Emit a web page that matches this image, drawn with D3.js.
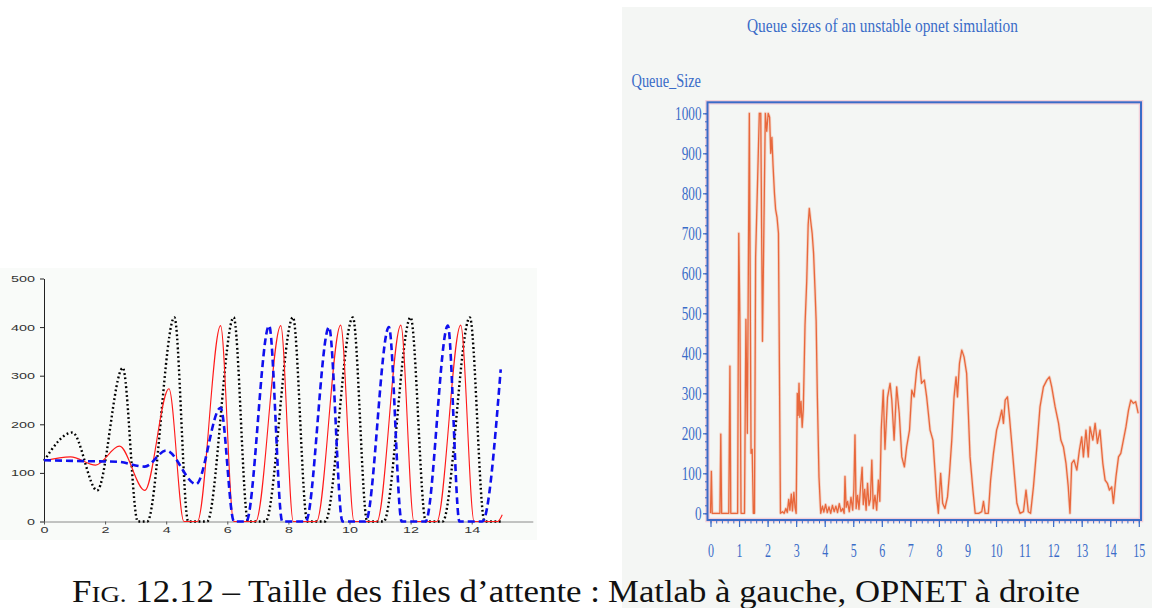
<!DOCTYPE html>
<html>
<head>
<meta charset="utf-8">
<script src="https://cdn.jsdelivr.net/npm/d3@7"></script>
<style>
  html, body { margin: 0; padding: 0; background: #ffffff; }
  svg { display: block; }
</style>
</head>
<body>
<svg id="fig" width="1152" height="608"></svg>
<script>
// ---------------- data ----------------
// Matlab model: queue sizes vs time (three queues), [time, size]
const matlabTicksX = [0, 2, 4, 6, 8, 10, 12, 14];
const matlabTicksY = [0, 100, 200, 300, 400, 500];

const matlabDotted = [
  [0, 125], [0.93, 183], [1.74, 64], [2.58, 316], [3.07, 0], [3.38, 0],
  [4.27, 420], [4.72, 0], [5.34, 0], [6.21, 420], [6.68, 0], [7.25, 0],
  [8.15, 420], [8.62, 0], [9.2, 0], [10.11, 420], [10.58, 0], [11.12, 0],
  [12.0, 420], [12.5, 0], [13.05, 0], [13.94, 420], [14.42, 0], [15, 0]
];

const matlabSolid = [
  [0, 125], [0.87, 133], [1.69, 116], [2.47, 155], [3.3, 64], [4.09, 273],
  [4.58, 0], [5.02, 0], [5.78, 403], [6.21, 0], [6.93, 0], [7.75, 403],
  [8.16, 0], [8.92, 0], [9.71, 404], [10.15, 0], [10.9, 0], [11.68, 404],
  [12.11, 0], [12.86, 0], [13.64, 404], [14.08, 0], [14.85, 0], [15, 14]
];

const matlabDashed = [
  [0, 126], [1.5, 124], [2.4, 123], [3.3, 113], [4.0, 146], [4.98, 77],
  [5.78, 234], [6.22, 0], [6.62, 0], [7.37, 403], [7.8, 0], [8.57, 0],
  [9.33, 400], [9.77, 0], [10.53, 0], [11.29, 400], [11.71, 0], [12.49, 0],
  [13.22, 403], [13.6, 0], [14.35, 0], [14.95, 313]
];

// OPNET simulation: queue size vs time, [time, size]
const opnetTicksX = [0, 1, 2, 3, 4, 5, 6, 7, 8, 9, 10, 11, 12, 13, 14, 15];
const opnetTicksY = [0, 100, 200, 300, 400, 500, 600, 700, 800, 900, 1000];

const opnetQueue = [
  [0.00,0],[0.03,105],[0.06,0],[0.33,0],[0.36,198],[0.39,0],[0.64,0],[0.68,368],
  [0.71,0],[0.95,0],[0.99,700],[1.03,480],[1.07,0],[1.19,0],[1.24,485],[1.29,200],
  [1.36,1000],[1.42,150],[1.46,160],[1.50,0],[1.54,0],[1.58,640],[1.71,1000],[1.76,1000],
  [1.82,430],[1.92,1000],[1.97,955],[2.02,1000],[2.07,990],[2.11,900],[2.15,940],[2.19,870],
  [2.24,800],[2.28,760],[2.33,740],[2.38,700],[2.45,0],[2.52,4],[2.58,0],[2.64,12],
  [2.69,2],[2.74,35],[2.78,8],[2.83,48],[2.87,6],[2.92,52],[2.96,15],[3.00,0],
  [3.04,300],[3.07,245],[3.10,325],[3.13,240],[3.17,280],[3.21,215],[3.25,260],[3.31,470],
  [3.37,580],[3.42,720],[3.46,762],[3.51,730],[3.56,700],[3.61,650],[3.66,560],[3.70,480],
  [3.74,300],[3.80,90],[3.86,0],[3.92,18],[3.97,3],[4.03,22],[4.09,2],[4.15,16],
  [4.21,0],[4.27,20],[4.33,4],[4.39,18],[4.45,2],[4.51,24],[4.57,5],[4.63,12],
  [4.68,0],[4.71,92],[4.75,15],[4.80,30],[4.86,4],[4.92,40],[4.98,8],[5.02,60],
  [5.06,196],[5.10,12],[5.15,45],[5.20,10],[5.26,70],[5.31,115],[5.35,22],[5.40,60],
  [5.45,8],[5.50,75],[5.55,20],[5.60,35],[5.65,133],[5.70,12],[5.76,45],[5.82,8],
  [5.88,83],[5.93,30],[5.98,210],[6.05,308],[6.11,160],[6.20,290],[6.29,325],[6.35,283],
  [6.43,183],[6.52,316],[6.61,250],[6.70,141],[6.79,116],[6.87,166],[6.97,208],[7.05,308],
  [7.13,291],[7.22,358],[7.31,391],[7.39,325],[7.49,333],[7.57,291],[7.63,250],[7.69,208],
  [7.79,183],[7.86,108],[7.92,41],[7.98,0],[8.06,100],[8.13,25],[8.21,12],[8.30,41],
  [8.37,100],[8.45,183],[8.53,291],[8.60,341],[8.65,291],[8.72,375],[8.80,408],[8.88,391],
  [8.97,350],[9.03,250],[9.09,141],[9.19,58],[9.27,0],[9.39,0],[9.50,4],[9.56,30],
  [9.62,0],[9.73,0],[9.81,83],[9.91,150],[10.02,208],[10.12,233],[10.20,258],[10.26,225],
  [10.32,283],[10.40,291],[10.47,241],[10.55,175],[10.63,108],[10.73,25],[10.84,0],[10.96,4],
  [11.05,58],[11.13,4],[11.21,0],[11.31,66],[11.43,166],[11.54,266],[11.66,316],[11.78,333],
  [11.87,341],[11.95,316],[12.07,266],[12.19,225],[12.27,183],[12.36,166],[12.45,125],[12.53,66],
  [12.59,0],[12.65,125],[12.73,133],[12.83,108],[12.92,158],[13.00,191],[13.06,141],[13.15,208],
  [13.23,141],[13.29,216],[13.39,183],[13.47,225],[13.55,175],[13.64,208],[13.74,125],[13.82,83],
  [13.90,75],[13.97,58],[14.05,66],[14.11,25],[14.20,91],[14.29,141],[14.37,150],[14.46,183],
  [14.55,216],[14.64,258],[14.72,283],[14.81,275],[14.89,279],[14.98,250]
];

const opnetTitle = "Queue sizes of an unstable opnet simulation";
const opnetYLabel = "Queue_Size";
const captionLead = "Taille des files d\u2019attente : ";
const captionTail = "Matlab \u00e0 gauche, OPNET \u00e0 droite";

// ---------------- drawing ----------------
const svg = d3.select("#fig");

// ===== left panel: Matlab =====
svg.append("rect")
  .attr("x", 0).attr("y", 268).attr("width", 537).attr("height", 272)
  .attr("fill", "#f9fbf9");

const xL = d3.scaleLinear().domain([0, 16]).range([44, 532.8]);
const yL = d3.scaleLinear().domain([0, 500]).range([521.5, 278.5]);

const stretchDigits = (sel, perChar) => sel
  .attr("textLength", function () { return this.textContent.length * perChar; })
  .attr("lengthAdjust", "spacingAndGlyphs");

const gyL = svg.append("g")
  .attr("transform", "translate(44,0)")
  .call(d3.axisLeft(yL).tickValues(matlabTicksY).tickSize(4).tickSizeOuter(0).tickPadding(5));
gyL.select(".domain").attr("stroke", "#222");
gyL.selectAll(".tick line").attr("stroke", "#222");
gyL.selectAll(".tick text")
  .attr("font-family", "Liberation Sans, Arial, sans-serif")
  .attr("font-size", 9.5).attr("fill", "#333")
  .call(stretchDigits, 8);

const gxL = svg.append("g")
  .attr("transform", "translate(0,521.5)")
  .call(d3.axisBottom(xL).tickValues(matlabTicksX).tickSize(3).tickSizeOuter(0).tickPadding(2));
gxL.select(".domain").attr("stroke", "#8a8a8a");
gxL.selectAll(".tick line").attr("stroke", "#555");
gxL.selectAll(".tick text")
  .attr("font-family", "Liberation Sans, Arial, sans-serif")
  .attr("font-size", 9.5).attr("fill", "#333")
  .call(stretchDigits, 8);

const lineL = d3.line()
  .x(d => xL(d[0])).y(d => yL(d[1]))
  .curve(d3.curveMonotoneX);

svg.append("path").datum(matlabDotted)
  .attr("d", lineL).attr("fill", "none")
  .attr("stroke", "#000").attr("stroke-width", 2.4)
  .attr("stroke-dasharray", "1.8,2.6");

svg.append("path").datum(matlabSolid)
  .attr("d", lineL).attr("fill", "none")
  .attr("stroke", "#ff1a1a").attr("stroke-width", 1.1);

svg.append("path").datum(matlabDashed)
  .attr("d", lineL).attr("fill", "none")
  .attr("stroke", "#1010ee").attr("stroke-width", 2.6)
  .attr("stroke-dasharray", "7,4");

// ===== right panel: OPNET =====
svg.append("rect")
  .attr("x", 622).attr("y", 7).attr("width", 530).attr("height", 601)
  .attr("fill", "#f4f6f4");

const xR = d3.scaleLinear().domain([0, 15]).range([710.5, 1138.8]);
const yR = d3.scaleLinear().domain([0, 1000]).range([513.3, 113.3]);

const blue = "#3a6cc8";
const serif = "Liberation Serif, Times New Roman, serif";

// title and y label
svg.append("text")
  .attr("x", 747).attr("y", 32)
  .attr("font-family", serif).attr("font-size", 18).attr("fill", blue)
  .attr("textLength", 271).attr("lengthAdjust", "spacingAndGlyphs")
  .text(opnetTitle);

svg.append("text")
  .attr("x", 631.5).attr("y", 87)
  .attr("font-family", serif).attr("font-size", 18).attr("fill", blue)
  .attr("textLength", 69.5).attr("lengthAdjust", "spacingAndGlyphs")
  .text(opnetYLabel);

// queue trace
const lineR = d3.line().x(d => xR(d[0])).y(d => yR(d[1]));
svg.append("path").datum(opnetQueue)
  .attr("d", lineR).attr("fill", "none")
  .attr("stroke", "#f3b49c").attr("stroke-width", 3).attr("stroke-linejoin", "round")
  .attr("opacity", 0.5);
svg.append("path").datum(opnetQueue)
  .attr("d", lineR).attr("fill", "none")
  .attr("stroke", "#e8683c").attr("stroke-width", 1.3).attr("stroke-linejoin", "round");

// frame
const frame = { x0: 707.5, y0: 102.3, x1: 1141, y1: 520 };
svg.append("rect")
  .attr("x", frame.x0).attr("y", frame.y0)
  .attr("width", frame.x1 - frame.x0).attr("height", frame.y1 - frame.y0)
  .attr("fill", "none").attr("stroke", "#f2b8c8").attr("stroke-width", 4.5).attr("opacity", 0.6);
svg.append("rect")
  .attr("x", frame.x0).attr("y", frame.y0)
  .attr("width", frame.x1 - frame.x0).attr("height", frame.y1 - frame.y0)
  .attr("fill", "none").attr("stroke", blue).attr("stroke-width", 2);

// x ticks (major + minor) and labels
const gxR = svg.append("g").attr("transform", `translate(0,${frame.y1})`);
gxR.call(d3.axisBottom(xR).tickValues(d3.range(0, 15.001, 0.2)).tickSize(3.5).tickFormat(""));
gxR.call(g => g.select(".domain").remove());
gxR.selectAll(".tick line").attr("stroke", blue).attr("stroke-width", 1);
const gxR2 = svg.append("g").attr("transform", `translate(0,${frame.y1})`)
  .call(d3.axisBottom(xR).tickValues(opnetTicksX).tickFormat(d3.format("d")).tickSize(7).tickPadding(17));
gxR2.select(".domain").remove();
gxR2.selectAll(".tick line").attr("stroke", blue).attr("stroke-width", 1.2);
gxR2.selectAll(".tick text")
  .attr("font-family", serif).attr("font-size", 19).attr("fill", blue)
  .call(stretchDigits, 6);

// y ticks (major + minor) and labels
const gyR = svg.append("g").attr("transform", `translate(${frame.x0},0)`);
gyR.call(d3.axisLeft(yR).tickValues(d3.range(0, 1000.1, 20)).tickSize(2.5).tickFormat(""));
gyR.call(g => g.select(".domain").remove());
gyR.selectAll(".tick line").attr("stroke", blue).attr("stroke-width", 1);
const gyR2 = svg.append("g").attr("transform", `translate(${frame.x0},0)`)
  .call(d3.axisLeft(yR).tickValues(opnetTicksY).tickFormat(d3.format("d")).tickSize(4.5).tickPadding(1.5));
gyR2.select(".domain").remove();
gyR2.selectAll(".tick line").attr("stroke", blue).attr("stroke-width", 1.2);
gyR2.selectAll(".tick text")
  .attr("font-family", serif).attr("font-size", 19).attr("fill", blue)
  .call(stretchDigits, 6.6);

// ===== caption =====
const capHead = svg.append("text")
  .attr("x", 72).attr("y", 601.5)
  .attr("font-family", serif).attr("font-size", 31).attr("fill", "#111")
  .attr("textLength", 608 - 72 - 8).attr("lengthAdjust", "spacingAndGlyphs");
capHead.append("tspan").text("F");
capHead.append("tspan").attr("font-size", 24).text("IG.");
capHead.append("tspan").text(" 12.12 \u2013 " + captionLead);

svg.append("text")
  .attr("x", 608).attr("y", 601.5)
  .attr("font-family", serif).attr("font-size", 31).attr("fill", "#111")
  .attr("textLength", 1080 - 608).attr("lengthAdjust", "spacingAndGlyphs")
  .text(captionTail);
</script>
</body>
</html>
